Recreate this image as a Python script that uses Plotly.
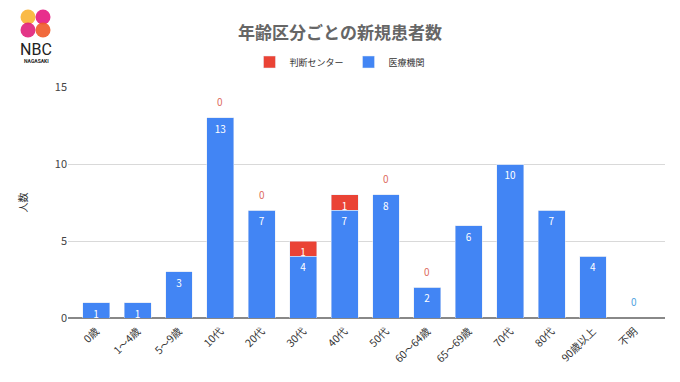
import plotly.graph_objects as go

categories = ["0歳", "1～4歳", "5～9歳", "10代", "20代", "30代", "40代", "50代",
              "60～64歳", "65～69歳", "70代", "80代", "90歳以上", "不明"]
medical = [1, 1, 3, 13, 7, 4, 7, 8, 2, 6, 10, 7, 4, 0]
center = [0, 0, 0, 0, 0, 1, 1, 0, 0, 0, 0, 0, 0, 0]
# which zero labels are shown in the original
center_zero_shown = [False, False, False, True, True, False, False, True, True,
                     False, False, False, False, False]
medical_zero_shown = [False] * 13 + [True]

BLUE = "#4285F4"
RED = "#EA4335"
FONT = "Noto Sans CJK JP"

W, H = 680, 382
ML, MR, MT, MB = 68, 15, 87, 64
PW, PH = W - ML - MR, H - MT - MB


def px(x, y):
    return (x - ML) / PW, (H - MB - y) / PH


fig = go.Figure()
fig.add_trace(go.Bar(
    name="医療機関", x=categories, y=medical, marker_color=BLUE, width=0.65,
    text=[str(v) if v > 0 else "" for v in medical], textposition="inside",
    insidetextanchor="end", textangle=0,
    textfont=dict(color="white", size=10, family=FONT), legendrank=2,
))
fig.add_trace(go.Bar(
    name="判断センター", x=categories, y=center, marker_color=RED, width=0.65,
    text=[str(v) if v > 0 else "" for v in center], textposition="inside",
    insidetextanchor="end", textangle=0,
    textfont=dict(color="white", size=10, family=FONT), legendrank=1,
))

annotations = []
for i, c in enumerate(categories):
    total = medical[i] + center[i]
    if center_zero_shown[i] and center[i] == 0:
        annotations.append(dict(x=c, y=total, text="0", showarrow=False, yshift=16,
                                font=dict(color="#DD6B5F", size=10, family=FONT)))
    if medical_zero_shown[i] and medical[i] == 0:
        annotations.append(dict(x=c, y=total, text="0", showarrow=False, yshift=17,
                                font=dict(color="#4FA3E0", size=10, family=FONT)))

# logo text
lx, ly = px(36, 49)
annotations.append(dict(xref="paper", yref="paper", x=lx, y=ly, text="NBC",
                        xanchor="center", yanchor="middle",
                        showarrow=False, font=dict(size=16, color="#222", family="Roboto")))
lx, ly = px(36, 61.5)
annotations.append(dict(xref="paper", yref="paper", x=lx, y=ly, text="<b>NAGASAKI</b>",
                        xanchor="center", yanchor="middle",
                        showarrow=False, font=dict(size=5, color="#222", family="Roboto")))

shapes = []
r = 7.5
for (cx, cy, col) in [(28, 17, "#F9B233"), (43, 17, "#E6177F"),
                      (28, 30, "#E0207A"), (43, 30, "#F05A28")]:
    x0, y0 = px(cx - r, cy + r)
    x1, y1 = px(cx + r, cy - r)
    shapes.append(dict(type="circle", xref="paper", yref="paper", x0=x0, y0=y0,
                       x1=x1, y1=y1, fillcolor=col, line_width=0, opacity=0.9))

fig.update_layout(
    width=W, height=H, barmode="stack",
    margin=dict(l=ML, r=MR, t=MT, b=MB, autoexpand=False),
    plot_bgcolor="white", paper_bgcolor="white",
    font=dict(family=FONT, color="#444", size=10),
    uniformtext=dict(minsize=10, mode="show"),
    title=dict(text="<b>年齢区分ごとの新規患者数</b>", x=0.5, xref="container", xanchor="center",
               y=1 - 33 / H, yref="container", yanchor="middle",
               font=dict(size=17, color="#666", family=FONT)),
    legend=dict(orientation="h", x=0.5, xanchor="center", xref="container",
                y=1 - 62 / H, yref="container", yanchor="middle", traceorder="normal",
                font=dict(size=9, color="#333"), itemwidth=30),
    showlegend=True,
    xaxis=dict(range=[-0.68, 13.74], tickangle=-45, showgrid=False, automargin=False,
               tickfont=dict(size=10.5, color="#333"), ticks="", showline=False,
               ticklabelstandoff=4),
    yaxis=dict(range=[0, 15], dtick=5, showgrid=True, gridcolor="#d9d9d9", automargin=False,
               zeroline=True, zerolinecolor="#888", zerolinewidth=1.5,
               tickfont=dict(size=11, color="#444"), ticks="",
               title=dict(text="人数", font=dict(size=10, color="#333"), standoff=25)),
    annotations=annotations, shapes=shapes,
)
fig.update_traces(cliponaxis=False, hoverinfo="skip")

fig.write_html("out.html", config={"displayModeBar": False},
               post_script="document.body.style.margin='0';")
